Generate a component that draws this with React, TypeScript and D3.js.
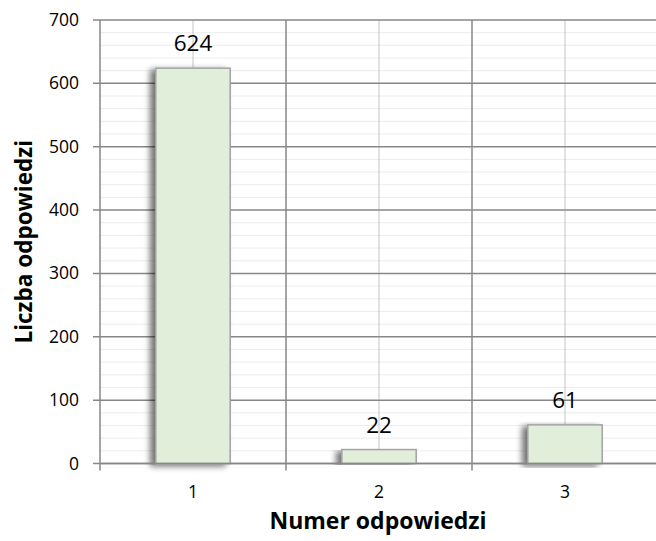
import React from "react";
import * as d3 from "d3";

const categories = ["1", "2", "3"];
const values = [624, 22, 61];
const yTicks = [0, 100, 200, 300, 400, 500, 600, 700];
const xTitle = "Numer odpowiedzi";
const yTitle = "Liczba odpowiedzi";

const W = 656;
const H = 541;
const left = 100;
const right = 658;
const top = 20;
const bottom = 463.5;
const FONT = "'Open Sans', sans-serif";

export default function App() {
  const x = d3.scaleBand<string>().domain(categories).range([left, right]).paddingInner(0).paddingOuter(0);
  const y = d3.scaleLinear().domain([0, 700]).range([bottom, top]);
  const bw = x.bandwidth() * 0.4;
  const minor = d3.range(0, 701, 20).filter((v) => v % 100 !== 0);
  const boundaries = categories.map((c) => x(c) as number).concat([right]);

  return (
    <svg width={W} height={H} style={{ position: "absolute", left: 0, top: 0, background: "#fff" }}>
      <defs>
        <filter id="shadow" x="-30%" y="-10%" width="160%" height="120%">
          <feGaussianBlur in="SourceAlpha" stdDeviation="3" />
          <feOffset dx="-5" dy="2" result="b" />
          <feComponentTransfer>
            <feFuncA type="linear" slope="0.55" />
          </feComponentTransfer>
          <feMerge>
            <feMergeNode />
            <feMergeNode in="SourceGraphic" />
          </feMerge>
        </filter>
      </defs>
      {minor.map((v) => (
        <line key={"m" + v} x1={left} x2={right} y1={y(v)} y2={y(v)} stroke="#ececec" strokeWidth={1} />
      ))}
      {categories.map((c) => (
        <line key={"vc" + c} x1={(x(c) as number) + x.bandwidth() / 2} x2={(x(c) as number) + x.bandwidth() / 2} y1={top} y2={bottom} stroke="#c4c4c4" strokeWidth={1} />
      ))}
      {yTicks.map((v) => (
        <line key={"g" + v} x1={left - 7} x2={right} y1={y(v)} y2={y(v)} stroke="#878787" strokeWidth={1.5} />
      ))}
      {boundaries.map((b, i) => (
        <line key={"vb" + i} x1={b} x2={b} y1={top} y2={bottom + 7} stroke="#878787" strokeWidth={1.5} />
      ))}
      {categories.map((c, i) => {
        const cx = (x(c) as number) + x.bandwidth() / 2;
        return (
          <g key={"bar" + c}>
            <rect x={cx - bw / 2} y={y(values[i])} width={bw} height={bottom - y(values[i])} fill="#e1eed9" stroke="#a3a3a3" strokeWidth={1.5} filter="url(#shadow)" />
          </g>
        );
      })}
      <line x1={left} x2={right} y1={bottom} y2={bottom} stroke="#878787" strokeWidth={1.5} />
      {categories.map((c, i) => {
        const cx = (x(c) as number) + x.bandwidth() / 2;
        return (
          <text key={"lab" + c} x={cx} y={y(values[i]) - 17} textAnchor="middle" fontFamily={FONT} fontSize={22.5} fill="#000">
            {values[i]}
          </text>
        );
      })}
      {yTicks.map((v) => (
        <text key={"yt" + v} x={79} y={y(v) + 6} textAnchor="end" fontFamily={FONT} fontSize={17.5} fill="#000">
          {v}
        </text>
      ))}
      {categories.map((c) => (
        <text key={"xt" + c} x={(x(c) as number) + x.bandwidth() / 2} y={498} textAnchor="middle" fontFamily={FONT} fontSize={17.5} fill="#000">
          {c}
        </text>
      ))}
      <text x={(left + right) / 2 - 1} y={529} textAnchor="middle" fontFamily={FONT} fontSize={23} fontWeight="bold" fill="#000">
        {xTitle}
      </text>
      <text transform={`translate(32,${(top + bottom) / 2}) rotate(-90)`} textAnchor="middle" fontFamily={FONT} fontSize={22.5} fontWeight="bold" fill="#000">
        {yTitle}
      </text>
    </svg>
  );
}
